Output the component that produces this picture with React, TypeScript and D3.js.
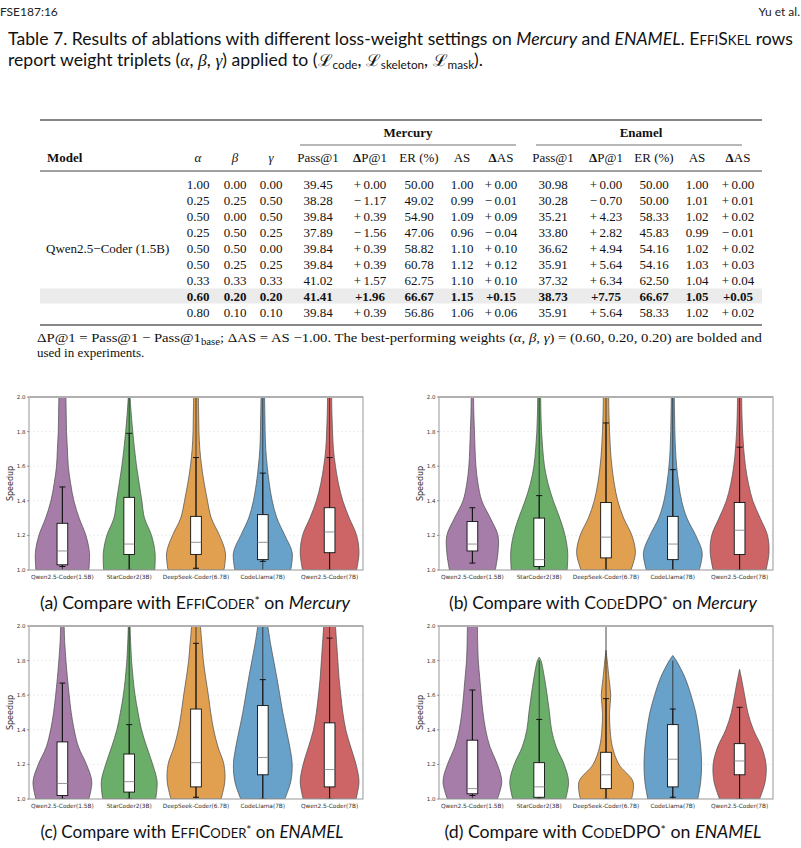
import React from 'react';
import * as d3 from 'd3';

// ---------- Table 7 values ----------
const alphaW = [1.0, 0.25, 0.5, 0.25, 0.5, 0.5, 0.33, 0.6, 0.8];
const betaW = [0.0, 0.25, 0.0, 0.5, 0.5, 0.25, 0.33, 0.2, 0.1];
const gammaW = [0.0, 0.5, 0.5, 0.25, 0.0, 0.25, 0.33, 0.2, 0.1];
const mercPass = [39.45, 38.28, 39.84, 37.89, 39.84, 39.84, 41.02, 41.41, 39.84];
const mercDeltaP = [0.0, -1.17, 0.39, -1.56, 0.39, 0.39, 1.57, 1.96, 0.39];
const mercER = [50.0, 49.02, 54.9, 47.06, 58.82, 60.78, 62.75, 66.67, 56.86];
const mercAS = [1.0, 0.99, 1.09, 0.96, 1.1, 1.12, 1.1, 1.15, 1.06];
const mercDeltaAS = [0.0, -0.01, 0.09, -0.04, 0.1, 0.12, 0.1, 0.15, 0.06];
const enamPass = [30.98, 30.28, 35.21, 33.8, 36.62, 35.91, 37.32, 38.73, 35.91];
const enamDeltaP = [0.0, -0.7, 4.23, 2.82, 4.94, 5.64, 6.34, 7.75, 5.64];
const enamER = [50.0, 50.0, 58.33, 45.83, 54.16, 54.16, 62.5, 66.67, 58.33];
const enamAS = [1.0, 1.01, 1.02, 0.99, 1.02, 1.03, 1.04, 1.05, 1.02];
const enamDeltaAS = [0.0, 0.01, 0.02, -0.01, 0.02, 0.03, 0.04, 0.05, 0.02];
const bestRow = 7;
const modelName = 'Qwen2.5\u2212Coder (1.5B)';

// ---------- violin figure values ----------
const models = ['Qwen2.5-Coder(1.5B)', 'StarCoder2(3B)', 'DeepSeek-Coder(6.7B)', 'CodeLlama(7B)', 'Qwen2.5-Coder(7B)'];
const violinColors = ['#a67ca8', '#6aae6a', '#e1a04f', '#68a1c9', '#cd6567'];
const speedLevels = [1.0, 1.1, 1.2, 1.3, 1.4, 1.5, 1.6, 1.7, 1.8, 1.9, 2.0];
const speedTicks = [1.0, 1.2, 1.4, 1.6, 1.8, 2.0];

// relative density at each speed level (1 = widest)
const widthsA = [
  [0.90, 0.92, 0.80, 0.57, 0.39, 0.28, 0.20, 0.17, 0.14, 0.13, 0.12],
  [0.87, 0.88, 0.76, 0.52, 0.43, 0.34, 0.25, 0.18, 0.12, 0.07, 0.03],
  [0.95, 1.00, 0.80, 0.52, 0.39, 0.28, 0.19, 0.13, 0.10, 0.09, 0.08],
  [0.95, 1.00, 0.75, 0.48, 0.32, 0.22, 0.15, 0.10, 0.08, 0.07, 0.06],
  [0.92, 1.00, 0.92, 0.67, 0.45, 0.30, 0.20, 0.13, 0.10, 0.08, 0.07],
];
const widthsB = [
  [0.78, 0.87, 0.87, 0.61, 0.32, 0.19, 0.12, 0.09, 0.07, 0.05, 0.04],
  [0.95, 0.97, 0.88, 0.70, 0.48, 0.30, 0.18, 0.12, 0.08, 0.06, 0.05],
  [0.85, 1.00, 0.88, 0.60, 0.40, 0.28, 0.20, 0.15, 0.12, 0.10, 0.09],
  [0.90, 1.00, 0.78, 0.48, 0.30, 0.20, 0.13, 0.09, 0.07, 0.06, 0.05],
  [0.90, 1.00, 0.95, 0.70, 0.45, 0.30, 0.20, 0.14, 0.10, 0.08, 0.07],
];
const widthsC = [
  [0.90, 1.00, 0.82, 0.55, 0.40, 0.30, 0.23, 0.17, 0.12, 0.08, 0.06],
  [0.90, 0.95, 0.80, 0.60, 0.42, 0.30, 0.20, 0.13, 0.08, 0.05, 0.03],
  [0.85, 0.98, 0.95, 0.75, 0.60, 0.50, 0.42, 0.33, 0.25, 0.20, 0.15],
  [0.75, 0.95, 1.00, 0.92, 0.80, 0.68, 0.58, 0.48, 0.37, 0.26, 0.17],
  [0.90, 1.00, 0.90, 0.72, 0.55, 0.45, 0.38, 0.32, 0.28, 0.24, 0.20],
];
const widthsD = [
  [0.85, 1.00, 0.85, 0.60, 0.45, 0.36, 0.30, 0.25, 0.20, 0.18, 0.17],
  [0.90, 1.00, 0.85, 0.58, 0.42, 0.35, 0.27, 0.18, 0.06],
  [0.87, 0.92, 0.44, 0.22, 0.14, 0.12, 0.16, 0.10, 0.04],
  [0.85, 0.95, 0.98, 0.95, 0.88, 0.78, 0.62, 0.42, 0.12],
  [0.68, 0.87, 0.90, 0.75, 0.47, 0.28, 0.17, 0.06],
];
// speedup where a violin closes (null = runs past the top of the axis)
const tipsA = [null, null, null, null, null];
const tipsB = [null, null, null, null, null];
const tipsC = [null, null, null, null, null];
const tipsD = [null, 1.82, 1.86, 1.83, 1.75];

// [lower whisker, Q1, median, Q3, upper whisker]
const boxesA = [
  [1.02, 1.03, 1.11, 1.27, 1.48],
  [1.0, 1.09, 1.15, 1.42, 1.79],
  [1.01, 1.09, 1.16, 1.31, 1.65],
  [1.05, 1.06, 1.16, 1.32, 1.56],
  [1.0, 1.10, 1.22, 1.36, 1.65],
];
const boxesB = [
  [1.04, 1.11, 1.15, 1.28, 1.36],
  [1.0, 1.02, 1.06, 1.30, 1.43],
  [1.0, 1.07, 1.19, 1.39, 1.85],
  [1.0, 1.06, 1.15, 1.31, 1.58],
  [1.0, 1.09, 1.23, 1.39, 1.71],
];
const boxesC = [
  [1.0, 1.02, 1.09, 1.33, 1.67],
  [1.0, 1.04, 1.10, 1.26, 1.43],
  [1.01, 1.07, 1.21, 1.52, 1.90],
  [1.0, 1.14, 1.24, 1.54, 1.69],
  [1.0, 1.07, 1.17, 1.44, 1.93],
];
const boxesD = [
  [1.02, 1.03, 1.06, 1.34, 1.63],
  [1.0, 1.01, 1.07, 1.21, 1.46],
  [1.0, 1.06, 1.14, 1.27, 1.58],
  [1.01, 1.07, 1.23, 1.43, 1.52],
  [1.0, 1.14, 1.22, 1.32, 1.53],
];
// [min, max] of each sample
const rangesA = [[1.0, 1.48], [0.9, 2.6], [0.9, 2.6], [0.9, 2.6], [0.9, 2.6]];
const rangesB = [[1.04, 1.36], [0.9, 2.6], [0.9, 2.6], [0.9, 2.6], [0.9, 2.6]];
const rangesC = [[1.0, 1.67], [0.9, 2.6], [0.9, 2.6], [0.9, 2.6], [0.9, 2.6]];
const rangesD = [[1.0, 1.63], [0.9, 1.8], [0.9, 2.6], [1.0, 1.8], [0.9, 1.53]];

const SANS = 'Lato, "Open Sans", sans-serif';
const SERIF = '"Liberation Serif", "DejaVu Serif", serif';
const PLOT = '"DejaVu Sans", sans-serif';

const fmt2 = d3.format('.2f');
const fmtDelta = (v: number, bold: boolean) =>
  (v < 0 ? '\u2212' : '+') + (bold ? '' : '\u2009') + fmt2(Math.abs(v));

// ---------- table ----------
const Table: React.FC = () => {
  const left = 40;
  const right = 762;
  const rowY = d3.scaleLinear().domain([0, alphaW.length - 1]).range([184, 312]);
  const columns = [
    { x: 198, head: 'α', greek: true, vals: alphaW, delta: false },
    { x: 235, head: 'β', greek: true, vals: betaW, delta: false },
    { x: 271, head: 'γ', greek: true, vals: gammaW, delta: false },
    { x: 318, head: 'Pass@1', vals: mercPass, delta: false },
    { x: 370, head: 'ΔP@1', vals: mercDeltaP, delta: true },
    { x: 419, head: 'ER (%)', vals: mercER, delta: false },
    { x: 462, head: 'AS', vals: mercAS, delta: false },
    { x: 501, head: 'ΔAS', vals: mercDeltaAS, delta: true },
    { x: 553, head: 'Pass@1', vals: enamPass, delta: false },
    { x: 606, head: 'ΔP@1', vals: enamDeltaP, delta: true },
    { x: 654, head: 'ER (%)', vals: enamER, delta: false },
    { x: 697, head: 'AS', vals: enamAS, delta: false },
    { x: 738, head: 'ΔAS', vals: enamDeltaAS, delta: true },
  ];
  return (
    <g fontFamily={SERIF} fontSize={13} fill="#111">
      <rect x={left} y={rowY(bestRow) - 7.5} width={right - left} height={15} fill="#ebebeb" />
      <line x1={left} x2={right} y1={120} y2={120} stroke="#111" strokeWidth={1.1} />
      <text x={408} y={137} textAnchor="middle" fontWeight="bold">Mercury</text>
      <text x={641} y={137} textAnchor="middle" fontWeight="bold">Enamel</text>
      <line x1={300} x2={516} y1={145} y2={145} stroke="#333" strokeWidth={0.7} />
      <line x1={536} x2={742} y1={145} y2={145} stroke="#333" strokeWidth={0.7} />
      <text x={47} y={162} fontWeight="bold">Model</text>
      {columns.map((c, i) => (
        <text key={`h${i}`} x={c.x} y={162} textAnchor="middle" fontStyle={c.greek ? 'italic' : 'normal'}>
          {c.head.startsWith('Δ') ? (
            <>
              <tspan fontWeight="bold">Δ</tspan>
              <tspan>{c.head.slice(1)}</tspan>
            </>
          ) : c.head}
        </text>
      ))}
      <line x1={left} x2={right} y1={171} y2={171} stroke="#111" strokeWidth={0.8} />
      <text x={46} y={rowY(4) + 4.5}>{modelName}</text>
      {columns.map((c, ci) =>
        c.vals.map((v, ri) => {
          const bold = ri === bestRow;
          return (
            <text key={`c${ci}-${ri}`} x={c.x} y={rowY(ri) + 4.5} textAnchor="middle"
              fontWeight={bold ? 'bold' : 'normal'}>
              {c.delta ? fmtDelta(v, bold) : fmt2(v)}
            </text>
          );
        })
      )}
      <line x1={left} x2={right} y1={325} y2={325} stroke="#111" strokeWidth={1.1} />
      <text x={37} y={342} fontSize={13} textLength={725} lengthAdjust="spacingAndGlyphs">
        ΔP@1 = Pass@1 − Pass@1<tspan dy={3} fontSize={9.5}>base</tspan>
        <tspan dy={-3}>; ΔAS = AS −1.00. The best-performing weights (</tspan>
        <tspan fontStyle="italic">α</tspan>, <tspan fontStyle="italic">β</tspan>, <tspan fontStyle="italic">γ</tspan>
        ) = (0.60, 0.20, 0.20) are bolded and
      </text>
      <text x={37} y={357} fontSize={13}>used in experiments.</text>
    </g>
  );
};

// ---------- violin panel ----------
interface PanelProps {
  id: string;
  x0: number;
  y0: number;
  w: number;
  h: number;
  widths: number[][];
  tips: (number | null)[];
  boxes: number[][];
  ranges: number[][];
}

const ViolinPanel: React.FC<PanelProps> = ({ id, x0, y0, w, h, widths, tips, boxes, ranges }) => {
  const xs = d3.scaleBand().domain(models).range([x0, x0 + w]).padding(0);
  const ys = d3.scaleLinear().domain([1, 2]).range([y0 + h, y0]);
  const bw = xs.bandwidth();
  const half = d3.scaleLinear().domain([0, 1]).range([0, bw * 0.44]);
  const boxHalf = bw * 0.08;
  const capHalf = bw * 0.045;

  return (
    <g fontFamily={PLOT}>
      <defs>
        <clipPath id={`clip-${id}`}>
          <rect x={x0} y={y0} width={w} height={h} />
        </clipPath>
      </defs>
      {speedTicks.slice(1, -1).map((t) => (
        <line key={t} x1={x0} x2={x0 + w} y1={ys(t)} y2={ys(t)} stroke="#e2e2e2" strokeWidth={0.6} strokeDasharray="2,2" />
      ))}
      <g clipPath={`url(#clip-${id})`}>
        {models.map((m, i) => {
          const cx = (xs(m) as number) + bw / 2;
          const pts: [number, number][] = widths[i].map((v, k) => [speedLevels[k], v]);
          if (tips[i] !== null) pts.push([tips[i] as number, 0]);
          const area = d3.area<[number, number]>()
            .y((d) => ys(d[0]))
            .x0((d) => cx - half(d[1]))
            .x1((d) => cx + half(d[1]))
            .curve(d3.curveCatmullRom);
          const [wlo, q1, med, q3, whi] = boxes[i];
          const [rlo, rhi] = ranges[i];
          return (
            <g key={m}>
              <path d={area(pts) || ''} fill={violinColors[i]} stroke="#4a4a4a" strokeWidth={0.7} />
              <line x1={cx} x2={cx} y1={ys(rlo)} y2={ys(rhi)} stroke="#333" strokeWidth={0.9} />
              <line x1={cx} x2={cx} y1={ys(wlo)} y2={ys(whi)} stroke="#111" strokeWidth={1} />
              <line x1={cx - capHalf} x2={cx + capHalf} y1={ys(wlo)} y2={ys(wlo)} stroke="#111" strokeWidth={1} />
              <line x1={cx - capHalf} x2={cx + capHalf} y1={ys(whi)} y2={ys(whi)} stroke="#111" strokeWidth={1} />
              <rect x={cx - boxHalf} y={ys(q3)} width={boxHalf * 2} height={ys(q1) - ys(q3)}
                fill="#fff" stroke="#111" strokeWidth={0.9} />
              <line x1={cx - boxHalf} x2={cx + boxHalf} y1={ys(med)} y2={ys(med)} stroke="#888" strokeWidth={0.9} />
            </g>
          );
        })}
      </g>
      <rect x={x0} y={y0} width={w} height={h} fill="none" stroke="#a0a0a0" strokeWidth={1.1} />
      <line x1={x0} x2={x0 + w} y1={y0} y2={y0} stroke="#b0b0b0" strokeWidth={2} />
      {speedTicks.map((t) => (
        <g key={`t${t}`}>
          <line x1={x0 - 2} x2={x0} y1={ys(t)} y2={ys(t)} stroke="#555" strokeWidth={0.6} />
          <text x={x0 - 3.5} y={ys(t) + 2} textAnchor="end" fontSize={5.5} fill="#333">{d3.format('.1f')(t)}</text>
        </g>
      ))}
      <text transform={`translate(${x0 - 16},${y0 + h / 2}) rotate(-90)`} textAnchor="middle" fontSize={8} fill="#333">
        Speedup
      </text>
      {models.map((m) => (
        <text key={`x${m}`} x={(xs(m) as number) + bw / 2} y={y0 + h + 9} textAnchor="middle" fontSize={5.8} fill="#333">
          {m}
        </text>
      ))}
    </g>
  );
};

const SmallCaps: React.FC<{ big: string; small: string; size: number }> = ({ big, small, size }) => (
  <>
    <tspan>{big}</tspan>
    <tspan fontSize={size}>{small}</tspan>
  </>
);

const Star: React.FC = () => (
  <>
    <tspan fontSize={12} dy={-4}>*</tspan>
    <tspan dy={4}> on </tspan>
  </>
);

const App: React.FC = () => {
  return (
    <svg width={801} height={848} viewBox="0 0 801 848"
      style={{ position: 'absolute', left: 0, top: 0, background: '#fff' }}>
      <rect width={801} height={848} fill="#fff" />
      <text x={0} y={16} fontFamily={SANS} fontSize={12} fill="#222">FSE187:16</text>
      <text x={800} y={16} fontFamily={SANS} fontSize={12} fill="#222" textAnchor="end">Yu et al.</text>

      <text x={8} y={45} fontFamily={SANS} fontSize={16.5} fill="#111" textLength={785} lengthAdjust="spacingAndGlyphs">
        Table 7.  Results of ablations with different loss-weight settings on <tspan fontStyle="italic">Mercury</tspan> and{' '}
        <tspan fontStyle="italic">ENAMEL</tspan>. <SmallCaps big="E" small="FFI" size={12.5} /><SmallCaps big="S" small="KEL" size={12.5} /> rows
      </text>
      <text x={8} y={66} fontFamily={SANS} fontSize={16.5} fill="#111" textLength={475} lengthAdjust="spacingAndGlyphs">
        report weight triplets (<tspan fontFamily={SERIF} fontStyle="italic">α</tspan>,{' '}
        <tspan fontFamily={SERIF} fontStyle="italic">β</tspan>, <tspan fontFamily={SERIF} fontStyle="italic">γ</tspan>) applied to (
        <tspan fontFamily={SERIF}>ℒ</tspan><tspan fontSize={11} dy={3}>code</tspan>
        <tspan dy={-3}>, </tspan><tspan fontFamily={SERIF}>ℒ</tspan><tspan fontSize={11} dy={3}>skeleton</tspan>
        <tspan dy={-3}>, </tspan><tspan fontFamily={SERIF}>ℒ</tspan><tspan fontSize={11} dy={3}>mask</tspan>
        <tspan dy={-3}>).</tspan>
      </text>

      <Table />

      <ViolinPanel id="a" x0={29} y0={397} w={334} h={173} widths={widthsA} tips={tipsA} boxes={boxesA} ranges={rangesA} />
      <ViolinPanel id="b" x0={439} y0={397} w={334} h={173} widths={widthsB} tips={tipsB} boxes={boxesB} ranges={rangesB} />
      <ViolinPanel id="c" x0={29} y0={626} w={334} h={173} widths={widthsC} tips={tipsC} boxes={boxesC} ranges={rangesC} />
      <ViolinPanel id="d" x0={439} y0={626} w={334} h={173} widths={widthsD} tips={tipsD} boxes={boxesD} ranges={rangesD} />

      <g fontFamily={SANS} fontSize={17} fill="#111" textAnchor="middle">
        <text x={195} y={609} textLength={310} lengthAdjust="spacingAndGlyphs">
          (a) Compare with <SmallCaps big="E" small="FFI" size={13} /><SmallCaps big="C" small="ODER" size={13} />
          <Star /><tspan fontStyle="italic">Mercury</tspan>
        </text>
        <text x={603} y={609} textLength={308} lengthAdjust="spacingAndGlyphs">
          (b) Compare with <SmallCaps big="C" small="ODE" size={13} />DPO
          <Star /><tspan fontStyle="italic">Mercury</tspan>
        </text>
        <text x={192} y={838} textLength={303} lengthAdjust="spacingAndGlyphs">
          (c) Compare with <SmallCaps big="E" small="FFI" size={13} /><SmallCaps big="C" small="ODER" size={13} />
          <Star /><tspan fontStyle="italic">ENAMEL</tspan>
        </text>
        <text x={603} y={838} textLength={317} lengthAdjust="spacingAndGlyphs">
          (d) Compare with <SmallCaps big="C" small="ODE" size={13} />DPO
          <Star /><tspan fontStyle="italic">ENAMEL</tspan>
        </text>
      </g>
    </svg>
  );
};

export default App;
